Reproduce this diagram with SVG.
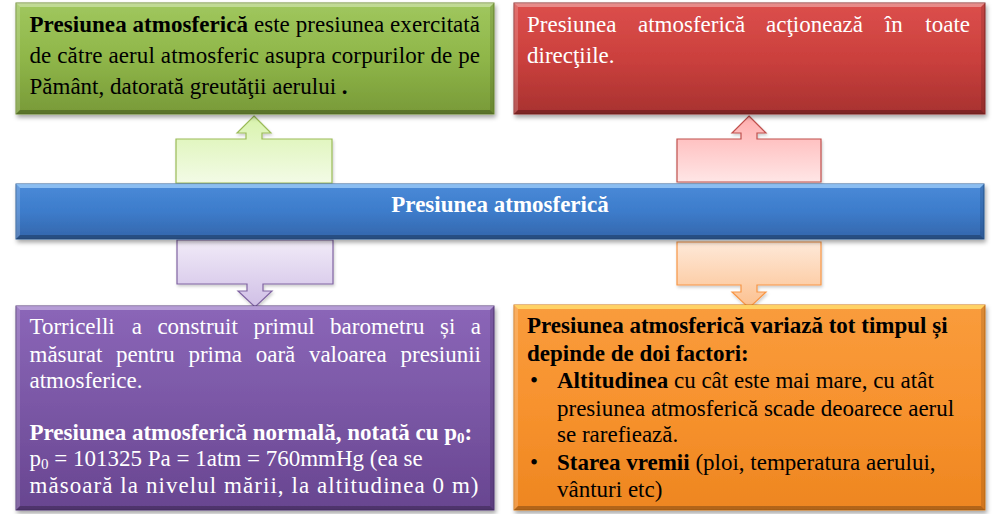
<svg xmlns="http://www.w3.org/2000/svg" width="1000" height="514" viewBox="0 0 1000 514">
<defs>
<linearGradient id="gGreen" x1="0" y1="0" x2="0" y2="1"><stop offset="0" stop-color="#a0c75e"/><stop offset="0.5" stop-color="#8fb649"/><stop offset="1" stop-color="#789a38"/></linearGradient>
<linearGradient id="gRed" x1="0" y1="0" x2="0" y2="1"><stop offset="0" stop-color="#dc4f4c"/><stop offset="0.5" stop-color="#cb403d"/><stop offset="1" stop-color="#a83230"/></linearGradient>
<linearGradient id="gBlue" x1="0" y1="0" x2="0" y2="1"><stop offset="0" stop-color="#4a8ad8"/><stop offset="0.5" stop-color="#3d7ccb"/><stop offset="1" stop-color="#3466ab"/></linearGradient>
<linearGradient id="gPurple" x1="0" y1="0" x2="0" y2="1"><stop offset="0" stop-color="#8b66b8"/><stop offset="0.5" stop-color="#7a57a5"/><stop offset="1" stop-color="#684590"/></linearGradient>
<linearGradient id="gOrange" x1="0" y1="0" x2="0" y2="1"><stop offset="0" stop-color="#f99c3c"/><stop offset="0.5" stop-color="#f7922e"/><stop offset="1" stop-color="#ee8620"/></linearGradient>
<linearGradient id="aGreen" x1="0" y1="0" x2="0" y2="1"><stop offset="0" stop-color="#d8f3ac"/><stop offset="1" stop-color="#f3fbe6"/></linearGradient>
<linearGradient id="aRed" x1="0" y1="0" x2="0" y2="1"><stop offset="0" stop-color="#ffaeae"/><stop offset="1" stop-color="#ffe6e6"/></linearGradient>
<linearGradient id="aPurple" x1="0" y1="0" x2="0" y2="1"><stop offset="0" stop-color="#f1ebf8"/><stop offset="1" stop-color="#d0bfe6"/></linearGradient>
<linearGradient id="aOrange" x1="0" y1="0" x2="0" y2="1"><stop offset="0" stop-color="#fee9d9"/><stop offset="1" stop-color="#fcc08e"/></linearGradient>
<filter id="sh" x="-5%" y="-10%" width="110%" height="130%"><feDropShadow dx="1.5" dy="3" stdDeviation="2" flood-color="#000" flood-opacity="0.35"/></filter>
<filter id="sh2" x="-10%" y="-10%" width="120%" height="130%"><feDropShadow dx="1" dy="2" stdDeviation="1.5" flood-color="#000" flood-opacity="0.2"/></filter>
</defs>
<style>
.t{font-family:"Liberation Serif","Times New Roman",Tinos,serif;font-size:23px;}
.b{font-weight:bold;}
.w{fill:#ffffff;}
.k{fill:#000000;}
.hl{fill:#ffffff;opacity:0.35;}
.hl2{fill:#ffffff;opacity:0.18;}
.dk{fill:#000000;opacity:0.12;}
.dk2{fill:#000000;opacity:0.25;}
</style>

<g id="connectors">
  <polygon points="254,116 271,133 262,133 262,139 332,139 332,183 176,183 176,139 246,139 246,133 237,133" fill="url(#aGreen)" stroke="#9bbb59" stroke-width="1.2" filter="url(#sh2)"/>
  <polygon points="749,116 766,133 757,133 757,139 821,139 821,182 677,182 677,139 741,139 741,133 732,133" fill="url(#aRed)" stroke="#c0504d" stroke-width="1.2" filter="url(#sh2)"/>
  <polygon points="177,240 333,240 333,284 263,284 263,291 272,291 255,307 238,291 247,291 247,284 177,284" fill="url(#aPurple)" stroke="#8064a2" stroke-width="1.2" filter="url(#sh2)"/>
  <polygon points="677,242 821,242 821,285 757,285 757,292 766,292 749,308 732,292 741,292 741,285 677,285" fill="url(#aOrange)" stroke="#f79646" stroke-width="1.2" filter="url(#sh2)"/>
</g>

<g id="node-green">
  <rect x="16" y="3" width="478" height="111" fill="url(#gGreen)" stroke="#6f8d33" stroke-width="1" filter="url(#sh)"/>
  <polygon class="hl" points="16,3 494,3 490,7 20,7"/>
  <polygon class="hl2" points="16,3 20,7 20,110 16,114"/>
  <polygon class="dk" points="494,3 494,114 490,110 490,7"/>
  <polygon class="dk2" points="16,114 20,110 490,110 494,114"/>
  <text class="t k" x="29.5" y="32" textLength="450.5" lengthAdjust="spacing"><tspan class="b">Presiunea atmosferică</tspan> este presiunea exercitată</text>
  <text class="t k" x="29.5" y="63" textLength="450.5" lengthAdjust="spacing">de către aerul atmosferic asupra corpurilor de pe</text>
  <text class="t k" x="29.5" y="94">Pământ, datorată greutăţii aerului <tspan class="b">.</tspan></text>
</g>

<g id="node-red">
  <rect x="514" y="3" width="471" height="111" fill="url(#gRed)" stroke="#8e2b29" stroke-width="1" filter="url(#sh)"/>
  <polygon class="hl" points="514,3 985,3 981,7 518,7"/>
  <polygon class="hl2" points="514,3 518,7 518,110 514,114"/>
  <polygon class="dk" points="985,3 985,114 981,110 981,7"/>
  <polygon class="dk2" points="514,114 518,110 981,110 985,114"/>
  <text class="t w" y="32"><tspan x="527">Presiunea</tspan><tspan x="638">atmosferică</tspan><tspan x="766">acţionează</tspan><tspan x="884.8">în</tspan><tspan x="970" text-anchor="end">toate</tspan></text>
  <text class="t w" x="527" y="63">direcţiile.</text>
</g>

<g id="node-center">
  <rect x="16" y="184" width="968" height="55" fill="url(#gBlue)" stroke="#2d5c98" stroke-width="1" filter="url(#sh)"/>
  <polygon fill="#9ccbf8" opacity="0.8" points="16,184 984,184 980,188 20,188"/>
  <polygon class="hl2" points="16,184 20,188 20,235 16,239"/>
  <polygon class="dk" points="984,184 984,239 980,235 980,188"/>
  <polygon class="dk2" points="16,239 20,235 980,235 984,239"/>
  <text class="t b w" x="500" y="212" text-anchor="middle">Presiunea atmosferică</text>
</g>

<g id="node-purple">
  <rect x="16" y="306" width="478" height="204" fill="url(#gPurple)" stroke="#553a78" stroke-width="1" filter="url(#sh)"/>
  <polygon fill="#c7b3e3" opacity="0.7" points="16,306 494,306 490,310 20,310"/>
  <polygon class="hl2" points="16,306 20,310 20,506 16,510"/>
  <polygon class="dk" points="494,306 494,510 490,506 490,310"/>
  <polygon class="dk2" points="16,510 20,506 490,506 494,510"/>
  <text class="t w" y="334"><tspan x="29.5">Torricelli</tspan><tspan x="131.8">a</tspan><tspan x="157.4">construit</tspan><tspan x="253.4">primul</tspan><tspan x="330.1">barometru</tspan><tspan x="440">și</tspan><tspan x="481" text-anchor="end">a</tspan></text>
  <text class="t w" y="362"><tspan x="29.5">măsurat</tspan><tspan x="115.9">pentru</tspan><tspan x="188.4">prima</tspan><tspan x="255.7">oară</tspan><tspan x="308.9">valoarea</tspan><tspan x="481" text-anchor="end">presiunii</tspan></text>
  <text class="t w" x="29.5" y="388">atmosferice.</text>
  <text class="t w b" x="29.5" y="440">Presiunea atmosferică normală, notată cu p<tspan font-size="15" dy="3">0</tspan><tspan dy="-3">:</tspan></text>
  <text class="t w" x="29.5" y="466">p<tspan font-size="15" dy="3">0</tspan><tspan dy="-3"> = 101325 Pa = 1atm = 760mmHg (ea se</tspan></text>
  <text class="t w" x="29.5" y="493" textLength="449" lengthAdjust="spacing">măsoară la nivelul mării, la altitudinea  0 m)</text>
</g>

<g id="node-orange">
  <rect x="514" y="305" width="471" height="205" fill="url(#gOrange)" stroke="#d0761a" stroke-width="1" filter="url(#sh)"/>
  <polygon fill="#ffd86a" opacity="0.9" points="514,305 985,305 981,309 518,309"/>
  <polygon class="hl2" points="514,305 518,309 518,506 514,510"/>
  <polygon class="dk" points="985,305 985,510 981,506 981,309"/>
  <polygon class="dk2" points="514,510 518,506 981,506 985,510"/>
  <text class="t k b" x="527" y="333">Presiunea atmosferică variază tot timpul și</text>
  <text class="t k b" x="527" y="361">depinde de doi factori:</text>
  <text class="t k" x="530" y="388">•</text>
  <text class="t k" x="557" y="388"><tspan class="b">Altitudinea</tspan> cu cât este mai mare, cu atât</text>
  <text class="t k" x="557" y="416">presiunea atmosferică scade deoarece aerul</text>
  <text class="t k" x="557" y="442">se rarefiează.</text>
  <text class="t k" x="530" y="470">•</text>
  <text class="t k" x="557" y="470"><tspan class="b">Starea vremii</tspan> (ploi, temperatura aerului,</text>
  <text class="t k" x="557" y="497">vânturi etc)</text>
</g>
</svg>
